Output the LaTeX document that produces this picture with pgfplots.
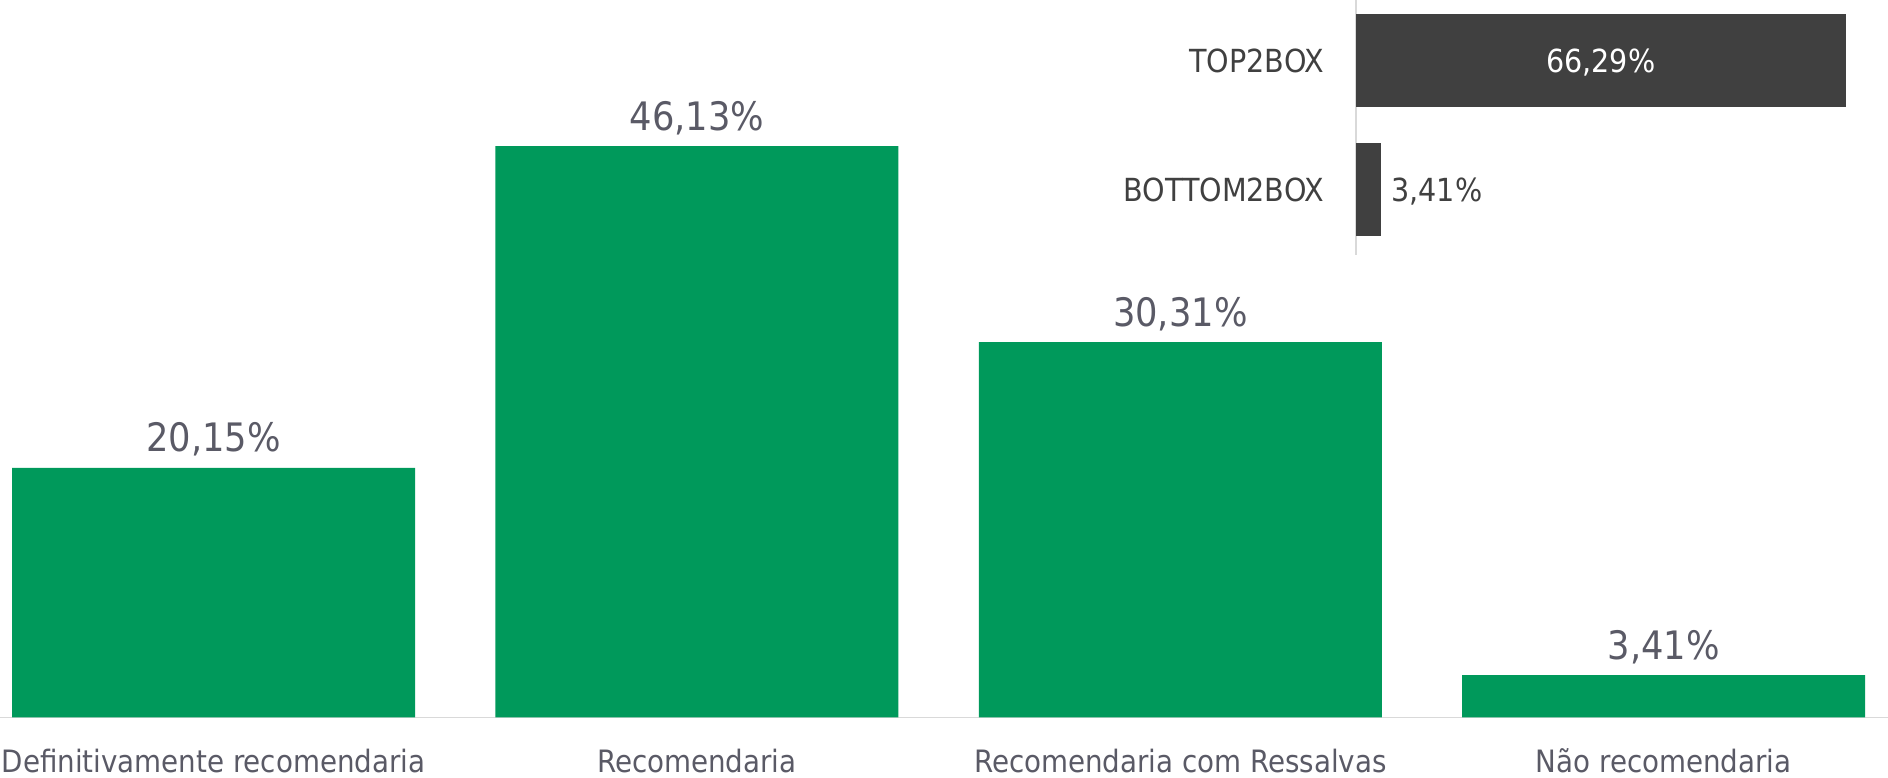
\documentclass[border=0pt]{standalone}
\usepackage{pgfplots}
\pgfplotsset{compat=1.18}
\usepackage{fontspec}
\setmainfont{DejaVu Sans Condensed}
\definecolor{barg}{RGB}{0,153,91}
\definecolor{txt}{RGB}{90,90,102}
\definecolor{dk}{RGB}{64,64,64}
\definecolor{axl}{RGB}{217,217,217}
\begin{document}
\begin{tikzpicture}
\useasboundingbox (0,-29.85pt) rectangle (944pt,358.65pt);
\begin{axis}[
  at={(0,0)}, anchor=south west,
  scale only axis, width=944pt, height=358.65pt,
  xmin=-0.4417, xmax=3.464, ymin=0, ymax=57.94,
  ybar, bar width=201.5pt,
  axis y line=none, axis x line*=bottom,
  axis line style={draw=axl, line width=0.75pt},
  xtick={0,1,2,3},
  xticklabels={Definitivamente recomendaria, Recomendaria, Recomendaria com Ressalvas, Não recomendaria},
  major tick length=0pt,
  xticklabel style={anchor=base, yshift=-27.35pt, inner sep=0pt, font=\fontsize{15.4pt}{18pt}\selectfont, text=txt},
  clip=false,
]
\addplot[fill=barg, draw=none, bar shift=0pt, nodes near coords, point meta=explicit symbolic,
  nodes near coords style={anchor=base, yshift=8pt, inner sep=0pt, font=\fontsize{19.6pt}{23pt}\selectfont, text=txt}]
  coordinates {(0,20.15) [20,15\%] (1,46.13) [46,13\%] (2,30.31) [30,31\%] (3,3.41) [3,41\%]};
\end{axis}
\begin{axis}[
  at={(677.9pt,231.15pt)}, anchor=south west,
  scale only axis, width=258.75pt, height=127.5pt,
  xbar, bar width=46.4pt, xmin=0, xmax=70, ymin=-0.508, ymax=1.472,
  axis x line=none, axis y line*=left,
  axis line style={draw=axl, line width=0.75pt},
  ytick={0,1}, yticklabels={BOTTOM2BOX,TOP2BOX},
  major tick length=0pt,
  yticklabel style={anchor=base east, inner sep=0pt, xshift=-15.65pt, yshift=-5.9pt, font=\fontsize{15.9pt}{18pt}\selectfont, text=dk},
  clip=false,
]
\addplot[fill=dk, draw=none, bar shift=0pt, nodes near coords, point meta=explicit symbolic,
  nodes near coords style={anchor=base, inner sep=0pt, xshift=-122.53pt, yshift=-5.9pt, text=white, font=\fontsize{15.9pt}{18pt}\selectfont}]
  coordinates {(66.29,1) [66,29\%]};
\addplot[fill=dk, draw=none, bar shift=0pt, nodes near coords, point meta=explicit symbolic,
  nodes near coords style={anchor=base west, inner sep=0pt, xshift=5pt, yshift=-5.9pt, text=dk, font=\fontsize{15.9pt}{18pt}\selectfont}]
  coordinates {(3.41,0) [3,41\%]};
\end{axis}
\end{tikzpicture}
\end{document}
